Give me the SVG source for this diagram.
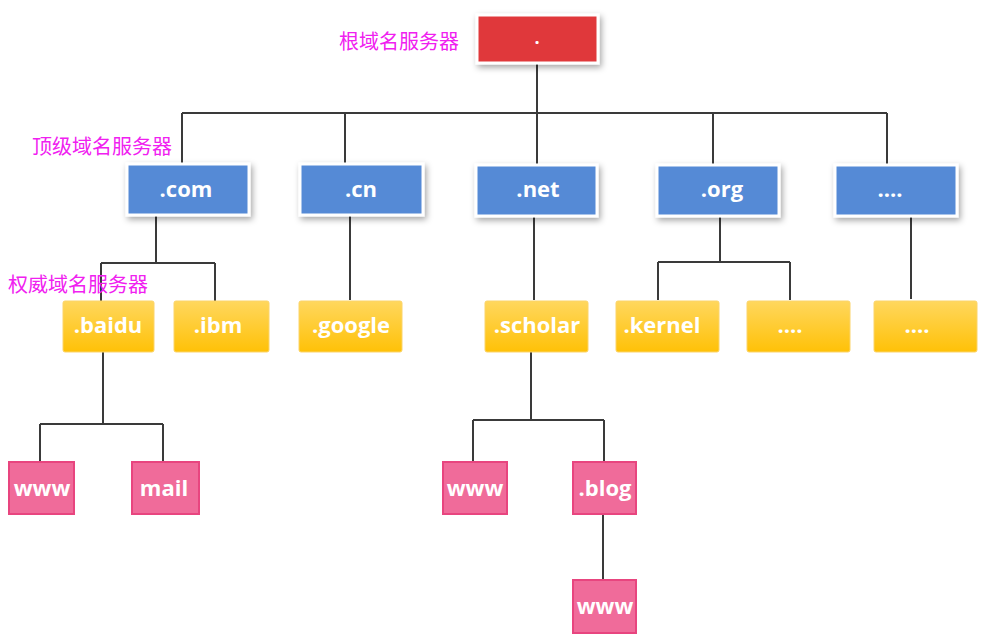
<svg xmlns="http://www.w3.org/2000/svg" width="988" height="642" viewBox="0 0 988 642">
<defs>
<filter id="sh" x="-20%" y="-30%" width="150%" height="170%">
<feDropShadow dx="2" dy="3" stdDeviation="3" flood-color="#000" flood-opacity="0.35"/>
</filter>
<linearGradient id="yg" x1="0" y1="0" x2="0" y2="1">
<stop offset="0" stop-color="#ffd75e"/>
<stop offset="1" stop-color="#ffc107"/>
</linearGradient>
<style>
.root{fill:#e0393a;stroke:#fff;stroke-width:3;filter:url(#sh)}
.tld{fill:#558ad6;stroke:#fff;stroke-width:3;filter:url(#sh)}
.auth{fill:url(#yg);stroke:#fbd46a;stroke-width:1}
.host{fill:#f06b9a;stroke:#e8457f;stroke-width:2}
.t{font-family:"Open Sans","Liberation Sans",sans-serif;font-weight:bold;fill:#fff;text-anchor:middle;font-size:22px}
.lbl{font-family:"Noto Sans CJK SC","Noto Sans",sans-serif;fill:#f020f0;font-size:20px}
.c{fill:none;stroke:#3a3a3a;stroke-width:2}
</style>
</defs>
<rect width="988" height="642" fill="#fff"/>
<g id="connectors">
<path class="c" d="M537 63V113M182 113H887M182 113V164M345 113V164M537 113V165M713 113V165M887 113V165"/>
<path class="c" d="M156 215V263M101 263H215M101 263V301M215 263V301"/>
<path class="c" d="M350 215V300"/>
<path class="c" d="M534 216V300"/>
<path class="c" d="M720 216V262M658 262H790M658 262V300M790 262V300"/>
<path class="c" d="M911 216V299"/>
<path class="c" d="M103 352V424M40 424H163M40 424V462M163 424V462"/>
<path class="c" d="M531 352V420M473 420H604M473 420V462M604 420V462"/>
<path class="c" d="M603 514V580"/>
</g>
<g id="labels">
<text class="lbl" x="339" y="49">根域名服务器</text>
<text class="lbl" x="32" y="154">顶级域名服务器</text>
<text class="lbl" x="8" y="292">权威域名服务器</text>
</g>
<g id="root"><rect class="root" x="477" y="15" width="121" height="48"/><text class="t" x="537" y="44" style="font-size:18px">.</text></g>
<g id="com"><rect class="tld" x="127" y="164" width="122" height="51"/><text class="t" x="186" y="197">.com</text></g>
<g id="cn"><rect class="tld" x="300" y="164" width="123" height="51"/><text class="t" x="361" y="197">.cn</text></g>
<g id="net"><rect class="tld" x="476" y="165" width="121" height="51"/><text class="t" x="538" y="197">.net</text></g>
<g id="org"><rect class="tld" x="657" y="165" width="122" height="51"/><text class="t" x="722" y="197">.org</text></g>
<g id="tld-more"><rect class="tld" x="835" y="165" width="122" height="51"/><text class="t" x="890" y="197">....</text></g>
<g id="baidu"><rect class="auth" x="63" y="301" width="91" height="51" rx="2"/><text class="t" x="108" y="333">.baidu</text></g>
<g id="ibm"><rect class="auth" x="174" y="301" width="95" height="51" rx="2"/><text class="t" x="218" y="333">.ibm</text></g>
<g id="google"><rect class="auth" x="299" y="301" width="103" height="51" rx="2"/><text class="t" x="351" y="333">.google</text></g>
<g id="scholar"><rect class="auth" x="485" y="301" width="103" height="51" rx="2"/><text class="t" x="537" y="333">.scholar</text></g>
<g id="kernel"><rect class="auth" x="616" y="301" width="103" height="51" rx="2"/><text class="t" x="662" y="333">.kernel</text></g>
<g id="org-more"><rect class="auth" x="747" y="301" width="103" height="51" rx="2"/><text class="t" x="790" y="333">....</text></g>
<g id="more-more"><rect class="auth" x="874" y="301" width="103" height="51" rx="2"/><text class="t" x="917" y="333">....</text></g>
<g id="baidu-www"><rect class="host" x="9" y="462" width="65" height="52"/><text class="t" x="42" y="496">www</text></g>
<g id="baidu-mail"><rect class="host" x="132" y="462" width="67" height="52"/><text class="t" x="164" y="496">mail</text></g>
<g id="scholar-www"><rect class="host" x="443" y="462" width="64" height="52"/><text class="t" x="475" y="496">www</text></g>
<g id="blog"><rect class="host" x="573" y="462" width="63" height="52"/><text class="t" x="605" y="496">.blog</text></g>
<g id="blog-www"><rect class="host" x="573" y="580" width="63" height="53"/><text class="t" x="605" y="614">www</text></g>
</svg>
